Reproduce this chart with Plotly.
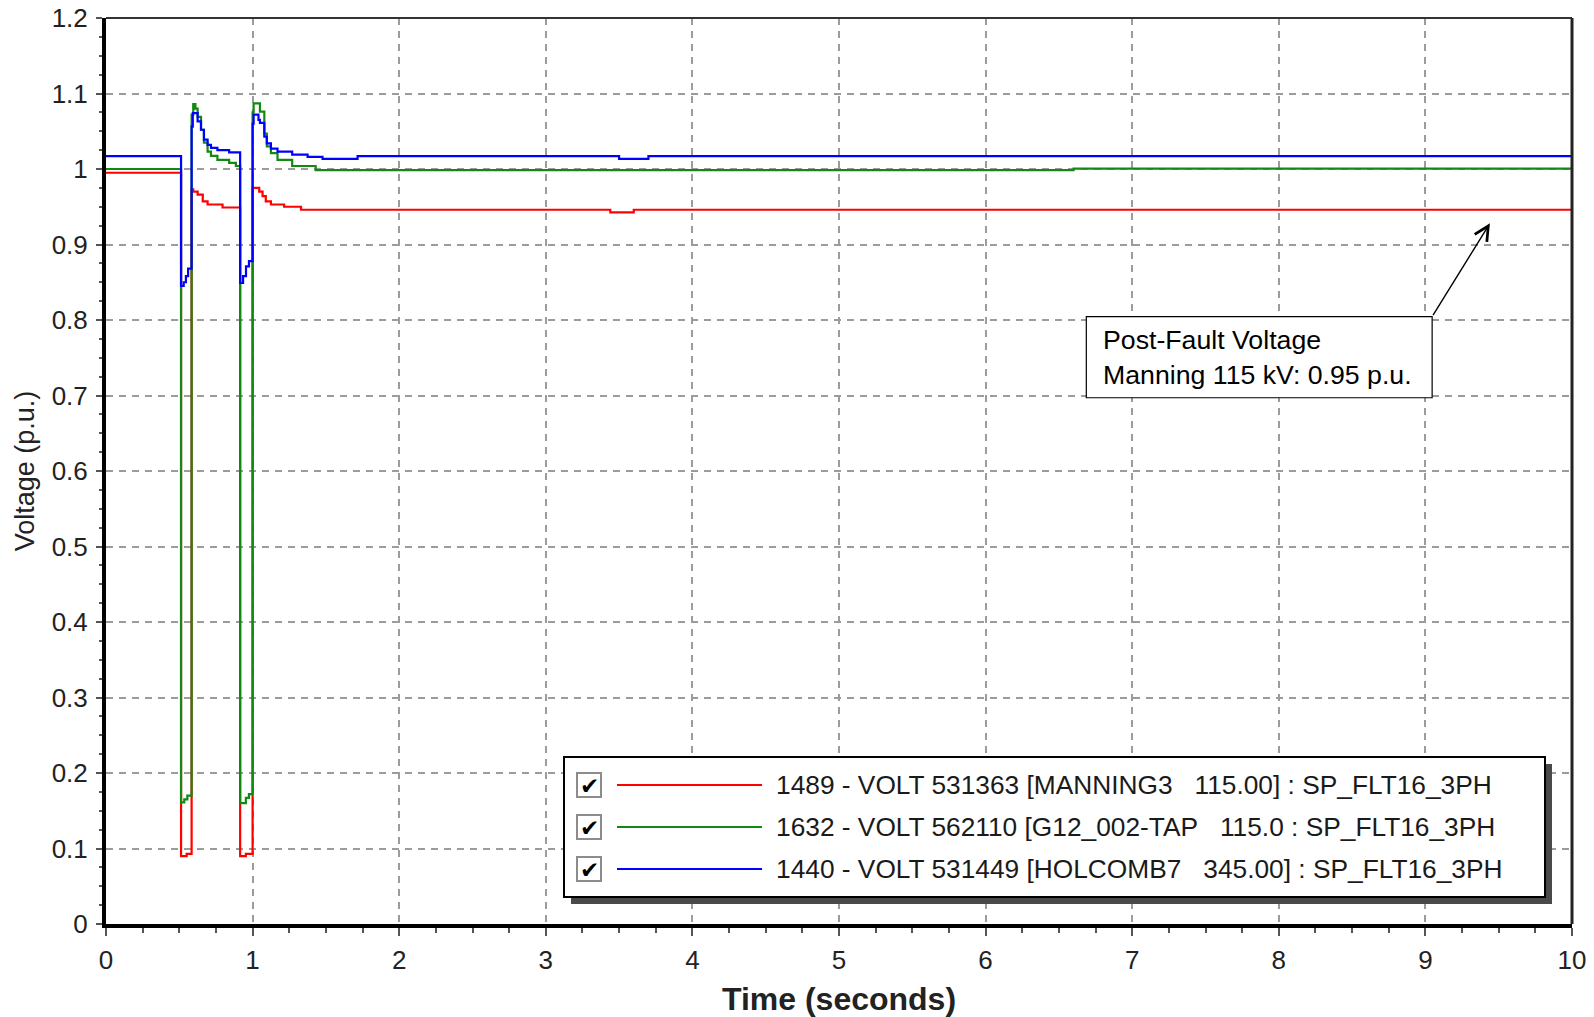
import plotly.graph_objects as go

# ---------------- data ----------------
red_t = [0, 0.512, 0.55, 0.584, 0.595, 0.625, 0.66, 0.693, 0.795, 0.915, 0.954, 1.0, 1.045,
         1.068, 1.09, 1.125, 1.215, 1.33, 3.44, 3.60, 10]
red_v = [0.995, 0.090, 0.093, 0.973, 0.970, 0.966, 0.957, 0.953, 0.949, 0.090, 0.093, 0.975, 0.970,
         0.964, 0.957, 0.953, 0.950, 0.946, 0.9425, 0.946, 0.946]

green_t = [0, 0.512, 0.534, 0.555, 0.584, 0.595, 0.61, 0.625, 0.648, 0.668, 0.693, 0.716, 0.76,
           0.84, 0.886, 0.915, 0.954, 0.975, 1.0, 1.007, 1.05, 1.08, 1.097, 1.125, 1.17, 1.27,
           1.43, 6.6, 10]
green_v = [1.000, 0.161, 0.165, 0.170, 1.072, 1.086, 1.080, 1.069, 1.052, 1.035, 1.023, 1.0175, 1.012,
           1.008, 1.004, 0.160, 0.167, 0.172, 1.075, 1.087, 1.076, 1.047, 1.030, 1.021, 1.012, 1.004,
           0.9985, 1.0005, 1.0005]

blue_t = [0, 0.512, 0.53, 0.545, 0.56, 0.584, 0.592, 0.625, 0.648, 0.668, 0.693, 0.716, 0.76, 0.84,
          0.915, 0.935, 0.955, 0.975, 1.0, 1.007, 1.04, 1.05, 1.08, 1.097, 1.125, 1.17, 1.27, 1.375,
          1.477, 1.716, 3.5, 3.7, 10]
blue_v = [1.017, 0.845, 0.850, 0.858, 0.868, 1.056, 1.074, 1.063, 1.052, 1.039, 1.032, 1.028, 1.025, 1.022,
          0.849, 0.858, 0.871, 0.878, 1.060, 1.072, 1.065, 1.061, 1.043, 1.034, 1.027, 1.023, 1.019, 1.016,
          1.0135, 1.017, 1.0135, 1.017, 1.017]

series_names = [
    "1489 - VOLT 531363 [MANNING3\u00a0\u00a0\u00a0115.00] : SP_FLT16_3PH",
    "1632 - VOLT 562110 [G12_002-TAP\u00a0\u00a0\u00a0115.0 : SP_FLT16_3PH",
    "1440 - VOLT 531449 [HOLCOMB7\u00a0\u00a0\u00a0345.00] : SP_FLT16_3PH",
]
series_colors = ["#ff0000", "#108a10", "#0000ff"]
series_t = [red_t, green_t, blue_t]
series_v = [red_v, green_v, blue_v]

x_ticks = [0, 1, 2, 3, 4, 5, 6, 7, 8, 9, 10]
x_ticktext = ["0", "1", "2", "3", "4", "5", "6", "7", "8", "9", "10"]
y_ticks = [0, 0.1, 0.2, 0.3, 0.4, 0.5, 0.6, 0.7, 0.8, 0.9, 1.0, 1.1, 1.2]
y_ticktext = ["0", "0.1", "0.2", "0.3", "0.4", "0.5", "0.6", "0.7", "0.8", "0.9", "1", "1.1", "1.2"]

note_text = "Post-Fault Voltage<br>Manning 115 kV: 0.95 p.u."
note_target = (9.44, 0.928)
note_box = (6.687, 0.697, 9.046, 0.8044)

# ---------------- layout geometry ----------------
# page body margin is removed by a post script, so page px == figure px
PAGE_W, PAGE_H = 1594, 1017
PL, PR, PT, PB = 106, 1572, 18, 924
W, H = PAGE_W, PAGE_H
ML, MT = PL, PT
MR, MB = W - PR, H - PB
FONT = "Liberation Sans, Arial, sans-serif"


def px(x):
    return (x - PL) / (PR - PL)


def py(y):
    return (PB - y) / (PB - PT)


fig = go.Figure()
for name, color, t, v in zip(series_names, series_colors, series_t, series_v):
    fig.add_trace(go.Scatter(x=t, y=v, mode="lines", name=name, line=dict(color=color, width=2.2, shape="hv"),
                             showlegend=False))

shapes = []
annotations = []

# top and right frame lines
shapes.append(dict(type="line", xref="paper", yref="paper", x0=0, x1=1, y0=1, y1=1,
                   line=dict(color="#333333", width=2), layer="above"))
shapes.append(dict(type="line", xref="paper", yref="paper", x0=1, x1=1, y0=0, y1=1,
                   line=dict(color="#222222", width=3), layer="above"))

# annotation box + text + arrow
shapes.append(dict(type="rect", xref="x", yref="y", x0=note_box[0], y0=note_box[1], x1=note_box[2], y1=note_box[3],
                   line=dict(color="black", width=1.2), fillcolor="white", layer="above"))
annotations.append(dict(x=note_box[0], y=(note_box[1] + note_box[3]) / 2, xref="x", yref="y", xshift=15,
                        xanchor="left", yanchor="middle", align="left", showarrow=False, text=note_text,
                        font=dict(family=FONT, size=26.7, color="black")))
annotations.append(dict(x=note_target[0], y=note_target[1], xref="x", yref="y", ax=note_box[2], ay=note_box[3],
                        axref="x", ayref="y", text="", showarrow=True, arrowhead=5, arrowsize=2.0,
                        arrowwidth=1.4, arrowcolor="black", standoff=0, startstandoff=0))

# legend (box with drop shadow, checkboxes, line samples, labels)
LG_L, LG_T, LG_R, LG_B = 564, 757, 1545, 897
shapes.append(dict(type="rect", xref="paper", yref="paper", x0=px(LG_L + 7), x1=px(LG_R + 7),
                   y0=py(LG_B + 7), y1=py(LG_T + 7), line=dict(width=0), fillcolor="#4a4a4a", layer="above"))
shapes.append(dict(type="rect", xref="paper", yref="paper", x0=px(LG_L), x1=px(LG_R),
                   y0=py(LG_B), y1=py(LG_T), line=dict(color="black", width=2), fillcolor="white", layer="above"))
row_y = [785, 827, 869]
for name, color, ry in zip(series_names, series_colors, row_y):
    shapes.append(dict(type="rect", xref="paper", yref="paper", x0=px(577), x1=px(601),
                       y0=py(ry + 12), y1=py(ry - 12), line=dict(color="#8c8c8c", width=2),
                       fillcolor="white", layer="above"))
    annotations.append(dict(x=px(589), y=py(ry + 1), xref="paper", yref="paper", text="\u2714",
                            showarrow=False, xanchor="center", yanchor="middle",
                            font=dict(family="DejaVu Sans", size=23, color="black")))
    shapes.append(dict(type="line", xref="paper", yref="paper", x0=px(617), x1=px(762),
                       y0=py(ry), y1=py(ry), line=dict(color=color, width=2.2), layer="above"))
    annotations.append(dict(x=px(774), y=py(ry), xref="paper", yref="paper", text=name, showarrow=False,
                            xanchor="left", yanchor="middle",
                            font=dict(family=FONT, size=26.3, color="#1a1a1a")))

axis_common = dict(
    showline=True, linecolor="black", linewidth=4, zeroline=False, automargin=False,
    ticklabeloverflow="allow",
    showgrid=True, gridcolor="#9c9c9c", gridwidth=2, griddash="7px,6px",
    ticks="outside", tickcolor="#555555", tickwidth=1.5,
    tickfont=dict(family=FONT, size=26, color="#222222"),
)

fig.update_layout(
    width=W, height=H,
    margin=dict(l=ML, r=MR, t=MT, b=MB, pad=0, autoexpand=False),
    paper_bgcolor="white", plot_bgcolor="white",
    font=dict(family=FONT, color="#222222"),
    showlegend=False, hovermode=False,
    shapes=shapes, annotations=annotations,
    xaxis=dict(range=[0, 10], tickvals=x_ticks, ticktext=x_ticktext, ticklen=8, ticklabelstandoff=2,
               minor=dict(ticks="outside", dtick=0.25, tick0=0, ticklen=5, tickcolor="#555555", tickwidth=1.5,
                          showgrid=False),
               title=dict(text="Time (seconds)", standoff=17,
                          font=dict(family=FONT, size=32, color="#222222", weight="bold")),
               **axis_common),
    yaxis=dict(range=[0, 1.2], tickvals=y_ticks, ticktext=y_ticktext, ticklen=6, ticklabelstandoff=3,
               minor=dict(ticks="outside", dtick=0.025, tick0=0, ticklen=3, tickcolor="#555555", tickwidth=1.5,
                          showgrid=False),
               title=dict(text="Voltage (p.u.)", standoff=10,
                          font=dict(family=FONT, size=27, color="#222222")),
               **axis_common),
)

fig.write_html("out.html", config={"displayModeBar": False},
               post_script="document.body.style.margin='0';document.body.style.overflow='hidden';")
